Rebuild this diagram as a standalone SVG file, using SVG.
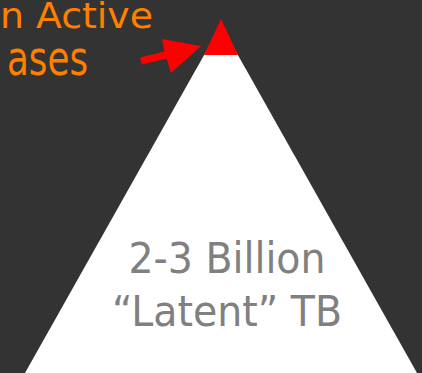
<svg xmlns="http://www.w3.org/2000/svg" width="422" height="373" viewBox="0 0 422 373">
  <style>
    .orange { fill: #FF8000; font-family: "DejaVu Sans", "Liberation Sans", sans-serif; }
    .gray { fill: #808080; font-family: "DejaVu Sans", "Liberation Sans", sans-serif; font-size: 42px; text-anchor: middle; }
  </style>
  <rect x="0" y="0" width="422" height="373" fill="#333333"/>
  <g id="latent-pyramid">
    <polygon points="221,25 25,373 417,373" fill="#FFFFFF"/>
    <text class="gray" x="227" y="273" textLength="197" lengthAdjust="spacingAndGlyphs">2-3 Billion</text>
    <text class="gray" x="227" y="326" textLength="230" lengthAdjust="spacingAndGlyphs">“Latent” TB</text>
  </g>
  <g id="active-tip">
    <polygon points="221,19 204,55 238,55" fill="#FF0000"/>
  </g>
  <g id="active-label">
    <text class="orange" x="0" y="28" font-size="36" textLength="153" lengthAdjust="spacingAndGlyphs">n Active</text>
    <text class="orange" x="7" y="75" font-size="48" textLength="81" lengthAdjust="spacingAndGlyphs">ases</text>
  </g>
  <g id="connectors">
    <polygon points="140,57.6 164.5,51.5 162,39 201,46 171,73 166.5,58.5 141.8,64.4" fill="#FF0000"/>
  </g>
</svg>
